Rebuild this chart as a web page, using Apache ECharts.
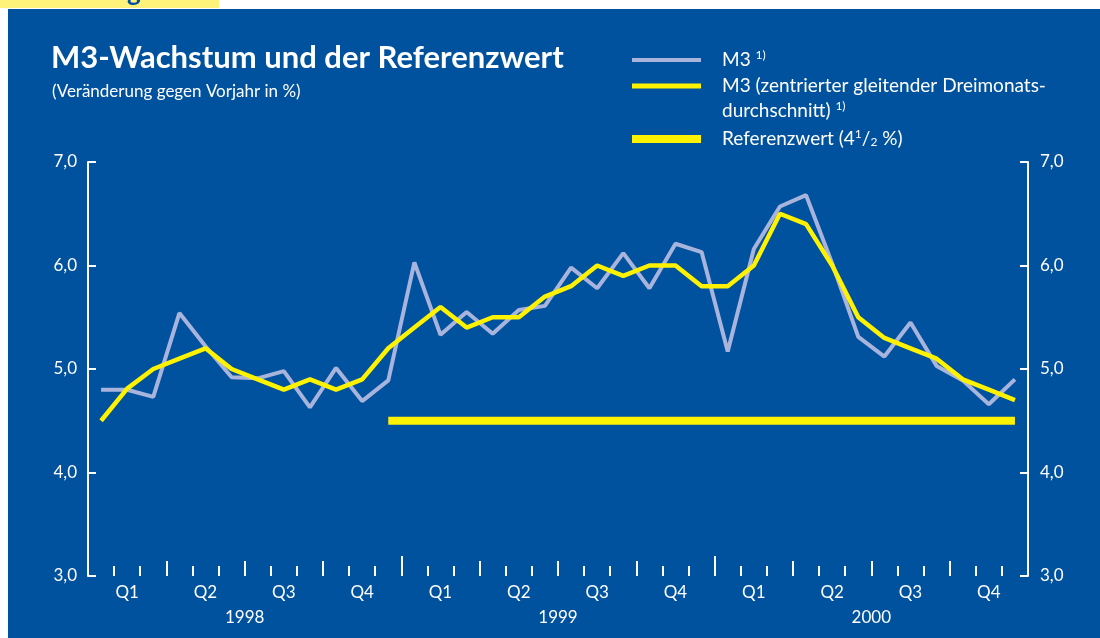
<!DOCTYPE html>
<html>
<head>
<meta charset="utf-8">
<script src="https://cdn.jsdelivr.net/npm/echarts@6/dist/echarts.min.js"></script>
<style>
  html, body { margin: 0; padding: 0; background: #ffffff; }
  #chart { width: 1100px; height: 638px; }
</style>
</head>
<body>
<div id="chart"></div>
<script>
// Daten (Veränderung gegen Vorjahr in %), monatlich Jan 1998 - Dez 2000
const years = ['1998', '1999', '2000'];
const quarters = ['Q1', 'Q2', 'Q3', 'Q4', 'Q1', 'Q2', 'Q3', 'Q4', 'Q1', 'Q2', 'Q3', 'Q4'];
const months = [
    '1998-01', '1998-02', '1998-03', '1998-04', '1998-05', '1998-06',
    '1998-07', '1998-08', '1998-09', '1998-10', '1998-11', '1998-12',
    '1999-01', '1999-02', '1999-03', '1999-04', '1999-05', '1999-06',
    '1999-07', '1999-08', '1999-09', '1999-10', '1999-11', '1999-12',
    '2000-01', '2000-02', '2000-03', '2000-04', '2000-05', '2000-06',
    '2000-07', '2000-08', '2000-09', '2000-10', '2000-11', '2000-12'
];
const m3 = [
    4.80, 4.80, 4.73, 5.54, 5.22, 4.92, 4.91, 4.98, 4.63, 5.01, 4.69, 4.89,
    6.03, 5.33, 5.55, 5.34, 5.57, 5.61, 5.98, 5.78, 6.12, 5.78, 6.21, 6.13,
    5.17, 6.16, 6.57, 6.68, 6.02, 5.31, 5.12, 5.45, 5.03, 4.89, 4.66, 4.90
];
const m3Avg = [
    4.50, 4.81, 5.00, 5.10, 5.20, 5.00, 4.90, 4.80, 4.90, 4.80, 4.90, 5.20,
    5.40, 5.60, 5.40, 5.50, 5.50, 5.70, 5.80, 6.00, 5.90, 6.00, 6.00, 5.80,
    5.80, 6.00, 6.50, 6.40, 6.00, 5.50, 5.30, 5.20, 5.10, 4.90, 4.80, 4.70
];
const referenz = [
    null, null, null, null, null, null, null, null, null, null, null, 4.5,
    4.5, 4.5, 4.5, 4.5, 4.5, 4.5, 4.5, 4.5, 4.5, 4.5, 4.5, 4.5,
    4.5, 4.5, 4.5, 4.5, 4.5, 4.5, 4.5, 4.5, 4.5, 4.5, 4.5, 4.5
];

const BLUE = '#00519e';
const GREY = '#a8b4dc';
const YELLOW = '#fff200';
const FONT = 'Lato';

const nameM3 = 'M3';
const nameAvg = 'M3 (zentrierter gleitender Dreimonatsdurchschnitt)';
const nameRef = 'Referenzwert';

const legendText = {
    [nameM3]: 'M3 {sup|1)}',
    [nameAvg]: 'M3 (zentrierter gleitender Dreimonats-\ndurchschnitt) {sup|1)}',
    [nameRef]: 'Referenzwert (4{sup|1}/{sub|2} %)'
};

const rich = {
    sup: { color: '#fff', fontFamily: FONT, fontSize: 12, padding: [0, 0, 9, 0] },
    sub: { color: '#fff', fontFamily: FONT, fontSize: 12, padding: [6, 0, 0, 0] }
};

function makeLegend(name, top, height, padTop) {
    return {
        data: [name],
        left: 632,
        top: top,
        padding: 0,
        icon: 'rect',
        itemWidth: 69,
        itemHeight: height,
        selectedMode: false,
        itemStyle: { borderWidth: 0 },
        formatter: n => legendText[n],
        textStyle: {
            color: '#fff', fontFamily: FONT, fontSize: 19, lineHeight: 25,
            padding: [padTop, 0, 0, 16], rich: rich
        }
    };
}

const yLabel = v => v.toFixed(1).replace('.', ',');

const axisY = (pos, margin) => ({
    type: 'value',
    position: pos,
    min: 3,
    max: 7,
    interval: 1,
    splitLine: { show: false },
    axisLine: { show: true, lineStyle: { color: '#fff', width: 2 } },
    axisTick: { show: true, inside: true, length: 8, lineStyle: { color: '#fff', width: 2 } },
    axisLabel: { color: '#fff', fontFamily: FONT, fontSize: 17, margin: margin, formatter: yLabel }
});

const axisX = (data, tickLen, label) => ({
    type: 'category',
    position: 'bottom',
    data: data,
    boundaryGap: true,
    axisLine: { show: false },
    axisTick: { show: true, inside: true, interval: 0, length: tickLen, lineStyle: { color: '#fff', width: 2 } },
    axisLabel: label ? Object.assign({ color: '#fff', fontFamily: FONT, fontSize: 17, interval: 0 }, label) : { show: false },
    splitLine: { show: false }
});

const chart = echarts.init(document.getElementById('chart'), null, { renderer: 'canvas' });
chart.setOption({
    animation: false,
    backgroundColor: BLUE,
    graphic: [
        { type: 'rect', shape: { x: 0, y: 0, width: 1100, height: 9 }, style: { fill: '#fff' } },
        { type: 'rect', shape: { x: 0, y: 0, width: 8, height: 638 }, style: { fill: '#fff' } },
        { type: 'rect', shape: { x: 0, y: 0, width: 219, height: 8 }, style: { fill: '#fff27a' } },
        { type: 'text', x: 127, y: 6, style: { text: 'g', fill: BLUE, font: 'bold 26px Lato', verticalAlign: 'bottom' } }
    ],
    title: [
        {
            text: 'M3-Wachstum und der Referenzwert',
            left: 51, top: 42, padding: 0,
            textStyle: { color: '#fff', fontFamily: FONT, fontWeight: 'bold', fontSize: 31 }
        },
        {
            text: '(Veränderung gegen Vorjahr in %)',
            left: 52, top: 83, padding: 0,
            textStyle: { color: '#fff', fontFamily: FONT, fontWeight: 'normal', fontSize: 17 }
        }
    ],
    legend: [
        makeLegend(nameM3, 47.5, 4, 0),
        makeLegend(nameAvg, 48.5, 5, 25),
        makeLegend(nameRef, 126.5, 8, 0)
    ],
    grid: { left: 88, right: 72, top: 162, bottom: 62, containLabel: false },
    xAxis: [
        axisX(months, 10, null),
        axisX(quarters, 15, { margin: 8 }),
        axisX(years, 20, { margin: 33 })
    ],
    yAxis: [axisY('left', 11), axisY('right', 12)],
    series: [
        {
            name: nameM3, type: 'line', data: m3, color: GREY,
            xAxisIndex: 0, yAxisIndex: 0, symbol: 'none',
            lineStyle: { color: GREY, width: 4 }, z: 2
        },
        {
            name: nameAvg, type: 'line', data: m3Avg, color: YELLOW,
            xAxisIndex: 0, yAxisIndex: 0, symbol: 'none',
            lineStyle: { color: YELLOW, width: 4.5 }, z: 3
        },
        {
            name: nameRef, type: 'line', data: referenz, color: YELLOW,
            xAxisIndex: 0, yAxisIndex: 0, symbol: 'none',
            lineStyle: { color: YELLOW, width: 8, cap: 'butt' }, z: 3
        }
    ]
});
</script>
</body>
</html>
